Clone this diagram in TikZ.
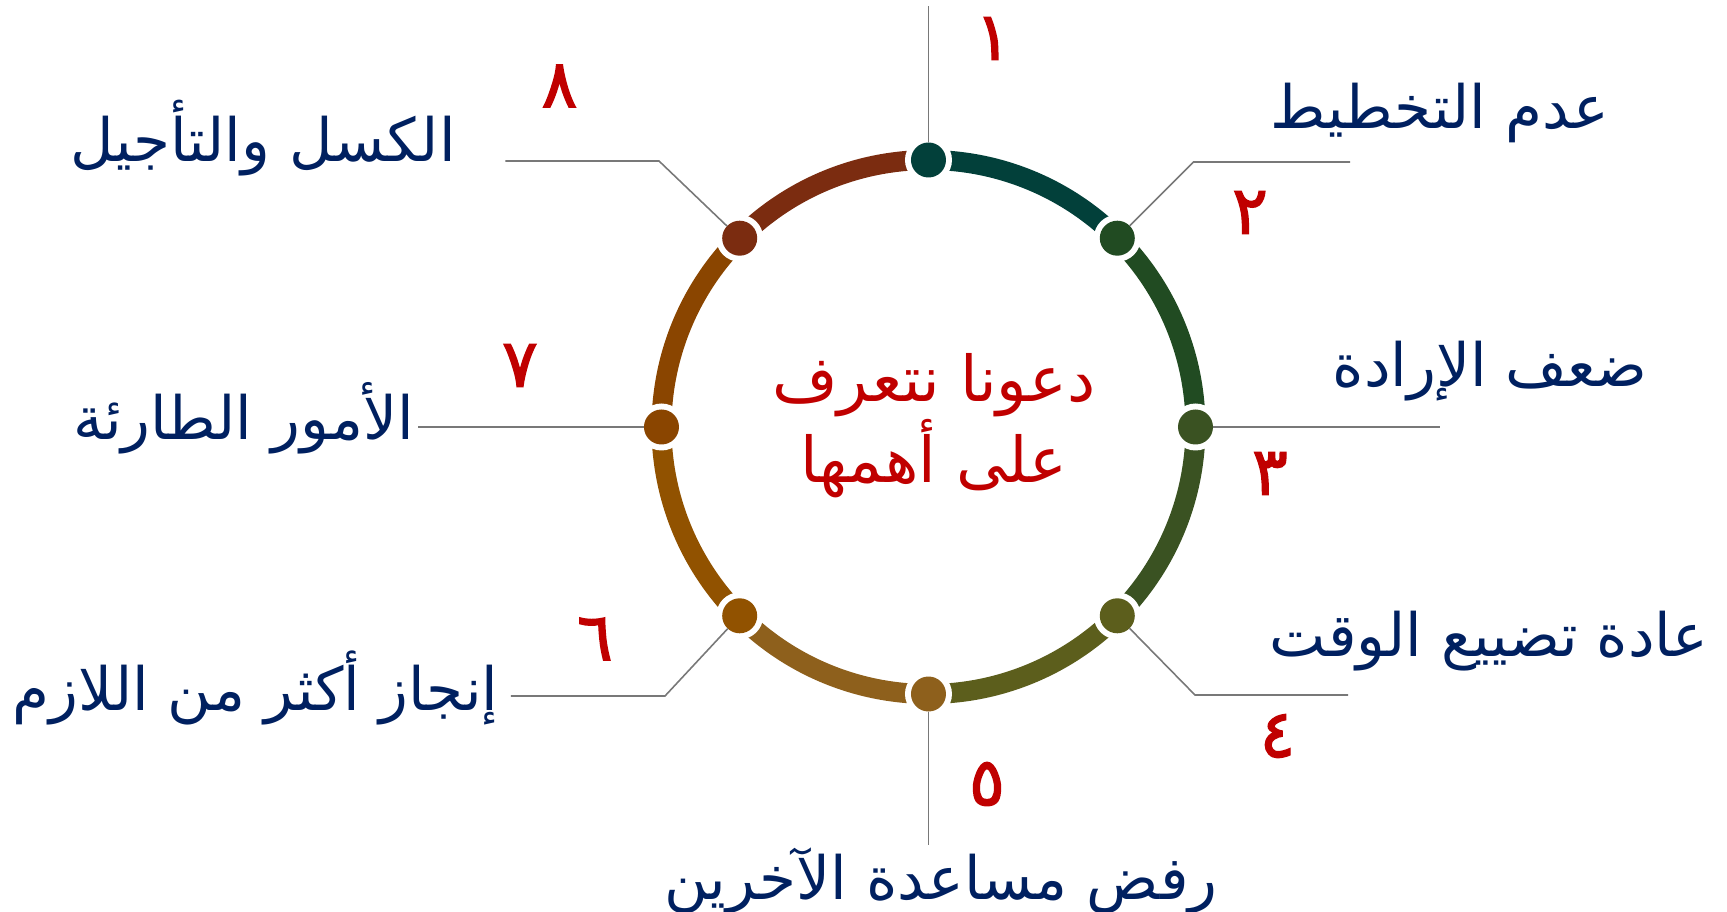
\documentclass[tikz,border=0pt]{standalone}
\usepackage{fontspec}
\usepackage{tikz}
\usetikzlibrary{positioning}
\newfontfamily\arabicfont[Script=Arabic]{DejaVu Sans}
\newfontfamily\numfont[Script=Arabic,FakeBold=2]{DejaVu Sans}
\TeXXeTstate=1
\definecolor{navy}{RGB}{0,32,96}
\definecolor{numred}{RGB}{192,0,0}
\definecolor{leadgray}{RGB}{120,120,120}
\definecolor{segA}{RGB}{2,64,58}
\definecolor{segB}{RGB}{33,75,34}
\definecolor{segC}{RGB}{58,82,34}
\definecolor{segD}{RGB}{92,94,28}
\definecolor{segE}{RGB}{142,96,28}
\definecolor{segF}{RGB}{145,82,0}
\definecolor{segG}{RGB}{138,69,0}
\definecolor{segH}{RGB}{123,44,16}

\begin{document}
\begin{tikzpicture}[
  lbl/.style={font=\arabicfont\fontsize{34}{40}\selectfont,text=navy,inner sep=0pt},
  num/.style={font=\numfont\fontsize{38}{44}\selectfont,text=numred,inner sep=0pt},
  ctr/.style={font=\arabicfont\fontsize{36}{44}\selectfont,text=numred,align=center,inner sep=0pt},
  lead/.style={leadgray,line width=0.9pt},
  dot/.style={circle,inner sep=0pt,outer sep=0pt,minimum size=0.7cm}]
\useasboundingbox (-18.57,-9.70) rectangle (15.97,8.54);
% ring
\foreach \i/\c in {1/segA,2/segB,3/segC,4/segD,5/segE,6/segF,7/segG,8/segH}
 {\draw[\c,line width=0.4cm] (135-45*\i:5.34) arc[start angle=135-45*\i,end angle=90-45*\i,radius=5.34];}
\foreach \i/\c in {1/segA,2/segB,3/segC,4/segD,5/segE,6/segF,7/segG,8/segH}
 {\fill[white] (135-45*\i:5.34) circle (0.47);
  \node[dot,fill=\c] (d\i) at (135-45*\i:5.34) {};}
% leaders
\coordinate (t1) at (0,8.42);
\coordinate (e2) at (5.30,5.30); \coordinate (t2) at (8.43,5.30);
\coordinate (t3) at (10.23,0);
\coordinate (e4) at (5.33,-5.36); \coordinate (t4) at (8.39,-5.36);
\coordinate (t5) at (0,-8.36);
\coordinate (e6) at (-5.27,-5.38); \coordinate (t6) at (-8.35,-5.38);
\coordinate (t7) at (-10.2,0);
\coordinate (e8) at (-5.39,5.32); \coordinate (t8) at (-8.46,5.32);
\draw[lead] (d1) -- (t1);
\draw[lead] (d2) -- (e2) -- (t2);
\draw[lead] (d3) -- (t3);
\draw[lead] (d4) -- (e4) -- (t4);
\draw[lead] (d5) -- (t5);
\draw[lead] (d6) -- (e6) -- (t6);
\draw[lead] (d7) -- (t7);
\draw[lead] (d8) -- (e8) -- (t8);
% numbers
\node[num] (n1) at (1.29,7.77) {١};
\node[num] (n2) at (6.43,4.29) {٢};
\node[num] (n3) at (6.83,-0.93) {٣};
\node[num] (n4) at (6.98,-6.18) {٤};
\node[num] (n5) at (1.17,-7.14) {٥};
\node[num] (n6) at (-6.67,-4.24) {٦};
\node[num] (n7) at (-8.17,1.23) {٧};
\node[num] (n8) at (-7.38,6.82) {٨};
% labels
\node[lbl] (l1) at (10.23,6.28) {\beginR عدم التخطيط\endR};
\node[lbl] (l2) at (11.23,1.12) {\beginR ضعف الإرادة\endR};
\node[lbl] (l3) at (11.21,-4.28) {\beginR عادة تضييع الوقت\endR};
\node[lbl] (l4) at (0.25,-9.08) {\beginR رفض مساعدة الآخرين\endR};
\node[lbl] (l5) at (-13.46,-5.22) {\beginR إنجاز أكثر من اللازم\endR};
\node[lbl] (l6) at (-13.70,0.17) {\beginR الأمور الطارئة\endR};
\node[lbl] (l7) at (-13.31,5.78) {\beginR الكسل والتأجيل\endR};
\node[ctr] (title) at (0.11,0.03) {\beginR دعونا نتعرف\endR\\\beginR على أهمها\endR};
\end{tikzpicture}
\end{document}
